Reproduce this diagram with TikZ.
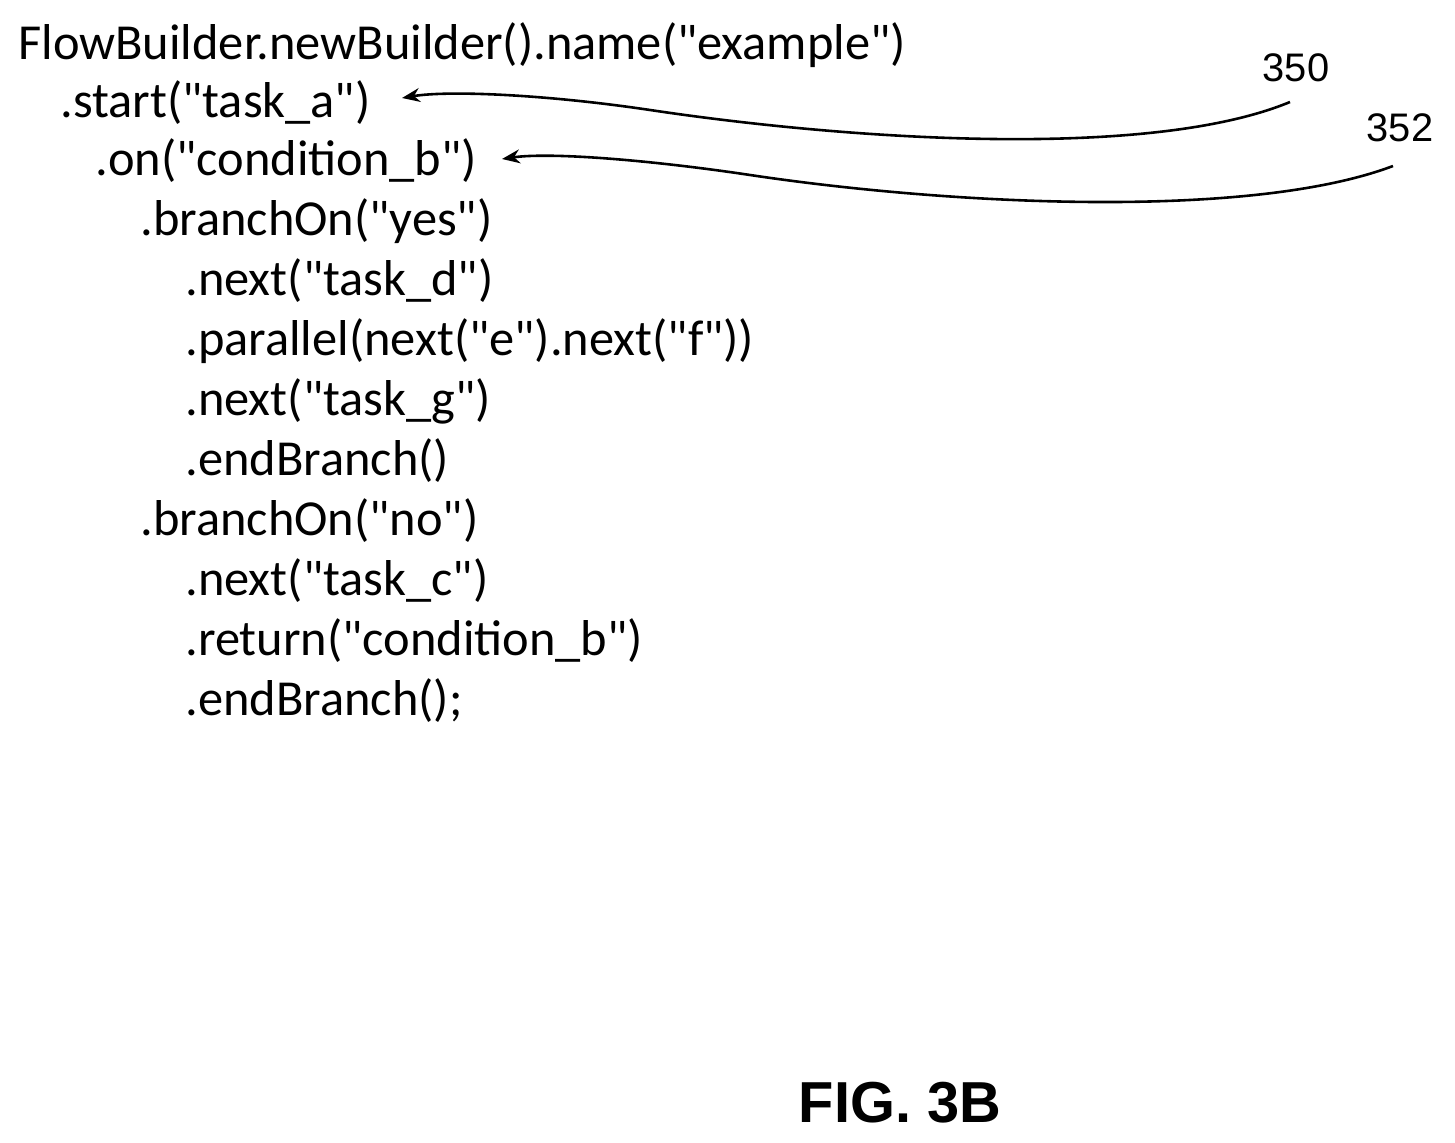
\documentclass[tikz,border=0pt]{standalone}
\usepackage{fontspec}
\setmainfont{Carlito}
\newfontfamily\arialf{Liberation Sans}
\newcommand\qd{\textquotedbl}
\usetikzlibrary{arrows.meta}
\begin{document}
\begin{tikzpicture}[x=0.5bp,y=-0.5bp,
  code/.style={anchor=west,inner sep=0pt,font=\fontsize{25.3}{26}\selectfont},
  lbl/.style={font=\arialf\fontsize{20}{21}\selectfont,inner sep=1pt},
  lead/.style={line width=1.3pt,-{Stealth[length=9pt,width=7pt]}}]
\useasboundingbox (0,0) rectangle (1455,1143);
\node[code] (l1) at (18,45) {FlowBuilder.newBuilder().name(\qd example\qd)};
\node[code] (l2) at (60,103) {.start(\qd task\_a\qd)};
\node[code] (l3) at (95,161) {.on(\qd condition\_b\qd)};
\node[code] (l4) at (140,221) {.branchOn(\qd yes\qd)};
\node[code] (l5) at (185,281) {.next(\qd task\_d\qd)};
\node[code] (l6) at (185,341) {.parallel(next(\qd e\qd).next(\qd f\qd))};
\node[code] (l7) at (185,401) {.next(\qd task\_g\qd)};
\node[code] (l8) at (185,461) {.endBranch()};
\node[code] (l9) at (140,521) {.branchOn(\qd no\qd)};
\node[code] (l10) at (185,581) {.next(\qd task\_c\qd)};
\node[code] (l11) at (185,641) {.return(\qd condition\_b\qd)};
\node[code] (l12) at (185,701) {.endBranch();};
\node[lbl] (n350) at (1296,68) {350};
\node[lbl] (n352) at (1400,128) {352};
\coordinate (a1) at (1290,102);
\coordinate (a2) at (1393,166);
\draw[lead] (a1) .. controls (1150,160) and (850,140) .. (650,110) .. controls (550,95) and (450,90) .. (402,98);
\draw[lead] (a2) .. controls (1250,220) and (950,205) .. (750,175) .. controls (650,160) and (550,152) .. (502,159);
\node[font=\arialf\bfseries\fontsize{29}{30}\selectfont,inner sep=0pt] (fig) at (900,1103) {FIG. 3B};
\end{tikzpicture}
\end{document}
